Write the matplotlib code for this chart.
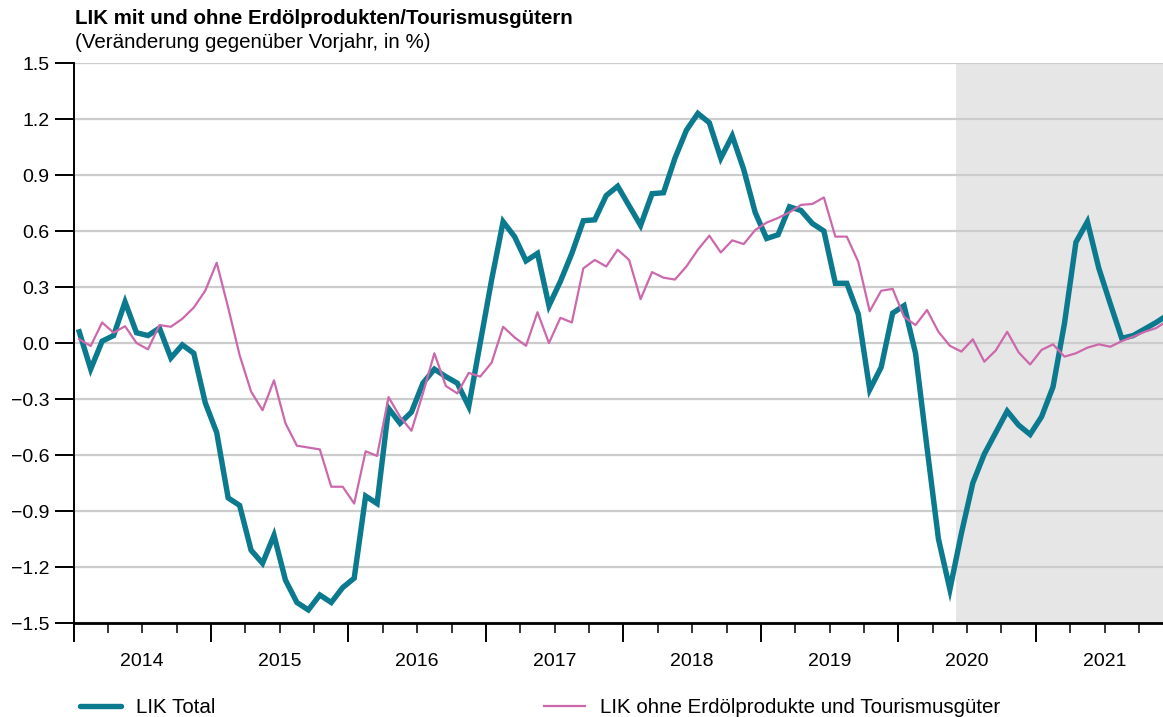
import numpy as np
import matplotlib
matplotlib.use("Agg")
import matplotlib.pyplot as plt
from matplotlib.lines import Line2D

# monthly year-on-year change in %, Jan 2014 .. Dec 2021
years = [2014, 2015, 2016, 2017, 2018, 2019, 2020, 2021]

lik_total = [
    0.06, -0.14, 0.01, 0.04, 0.22, 0.055, 0.04, 0.08, -0.08, -0.01, -0.055, -0.32,
    -0.48, -0.83, -0.87, -1.11, -1.18, -1.03, -1.27, -1.39, -1.43, -1.35, -1.39, -1.31,
    -1.26, -0.82, -0.86, -0.35, -0.43, -0.37, -0.215, -0.14, -0.18, -0.215, -0.34, 0.0,
    0.34, 0.65, 0.57, 0.44, 0.48, 0.20, 0.33, 0.48, 0.655, 0.66, 0.79, 0.84,
    0.735, 0.63, 0.80, 0.805, 0.99, 1.14, 1.23, 1.18, 0.99, 1.11, 0.93, 0.70,
    0.56, 0.58, 0.73, 0.71, 0.64, 0.60, 0.32, 0.32, 0.155, -0.25, -0.13, 0.16,
    0.20, -0.055, -0.56, -1.05, -1.32, -1.02, -0.75, -0.595, -0.48, -0.365, -0.44, -0.49,
    -0.395, -0.235, 0.105, 0.54, 0.65, 0.40, 0.21, 0.025, 0.04, 0.075, 0.11, 0.15,
]

lik_core = [
    0.02, -0.016, 0.11, 0.055, 0.09, 0.0, -0.034, 0.096, 0.087, 0.13, 0.19, 0.28,
    0.43, 0.19, -0.065, -0.26, -0.36, -0.20, -0.43, -0.55, -0.56, -0.57, -0.77, -0.77,
    -0.86, -0.58, -0.605, -0.29, -0.395, -0.47, -0.27, -0.055, -0.23, -0.27, -0.16, -0.18,
    -0.105, 0.087, 0.03, -0.015, 0.165, 0.0, 0.135, 0.11, 0.40, 0.445, 0.41, 0.50,
    0.445, 0.235, 0.38, 0.35, 0.34, 0.41, 0.50, 0.575, 0.485, 0.55, 0.53, 0.605,
    0.645, 0.67, 0.70, 0.74, 0.745, 0.78, 0.57, 0.57, 0.435, 0.17, 0.28, 0.29,
    0.14, 0.096, 0.177, 0.06, -0.015, -0.046, 0.02, -0.10, -0.04, 0.06, -0.05, -0.115,
    -0.037, -0.007, -0.073, -0.055, -0.025, -0.007, -0.02, 0.01, 0.034, 0.06, 0.08, 0.12,
]

y_ticks = [-1.5, -1.2, -0.9, -0.6, -0.3, 0.0, 0.3, 0.6, 0.9, 1.2, 1.5]
labels = ["LIK Total", "LIK ohne Erdölprodukte und Tourismusgüter"]
title = "LIK mit und ohne Erdölprodukten/Tourismusgütern"
subtitle = "(Veränderung gegenüber Vorjahr, in %)"

TEAL = "#0b7a8f"
PINK = "#cc68ac"
FS = 14       # tick labels
FS_TXT = 14.8  # title, subtitle, legend
forecast_start = 2020 + 5 / 12

plt.rcParams["font.family"] = ["Liberation Sans", "DejaVu Sans"]
plt.rcParams["font.size"] = FS

# x position: middle of each month in decimal years
n = len(lik_total)
x = years[0] + (np.arange(n) + 0.5) / 12

fig = plt.figure(figsize=(11.63, 7.17), dpi=100)
ax = fig.add_axes([0.0632, 0.1311, 0.9368, 0.7810])

ax.axvspan(forecast_start, 2030, color="#e6e6e6", lw=0, zorder=0)
for v in y_ticks:
    ax.axhline(v, color="#cccccc", lw=1.6, zorder=1)

ax.plot(x, lik_total, color=TEAL, lw=3.9, solid_joinstyle="miter", zorder=3)
ax.plot(x, lik_core, color=PINK, lw=1.6, zorder=4)

ax.set_yticks(y_ticks)
ax.set_yticklabels([f"{v:.1f}".replace("-", "\u2212") for v in y_ticks])
ax.set_xticks(years)
ax.set_xticks(np.arange(years[0], years[-1] + 1, 0.25), minor=True)
ax.set_xticklabels([])
# set limits after the ticks so they are not widened
ax.set_xlim(years[0], years[0] + 7.925)
ax.set_ylim(-1.5, 1.5)

ax.tick_params(axis="y", length=13.5, width=1.4, pad=4, labelsize=FS)
ax.tick_params(axis="x", which="major", length=14, width=1.4)
ax.tick_params(axis="x", which="minor", length=7.5, width=1.1)

for s in ["top", "right"]:
    ax.spines[s].set_visible(False)
ax.spines["left"].set_linewidth(1.4)
ax.spines["bottom"].set_linewidth(2)
ax.spines["left"].set_zorder(5)
ax.spines["bottom"].set_zorder(5)

# year labels sit centred between the year ticks
for yr in years:
    ax.text(yr + 0.5, -0.068, str(yr), transform=ax.get_xaxis_transform(),
            ha="center", va="center", fontsize=FS)

fig.text(0.0645, 0.9665, title, fontsize=FS_TXT, fontweight="bold", ha="left", va="baseline")
fig.text(0.0645, 0.9335, subtitle, fontsize=FS_TXT, ha="left", va="baseline")

handles = [Line2D([], [], color=TEAL, lw=3.9, solid_capstyle="round"),
           Line2D([], [], color=PINK, lw=1.6)]
fig.legend(handles, labels, loc="lower left", bbox_to_anchor=(0.053, -0.026),
           ncol=2, frameon=False, fontsize=FS_TXT, handlelength=2.0,
           handletextpad=0.72, columnspacing=16.0)

fig.savefig("out.png", dpi=100)
